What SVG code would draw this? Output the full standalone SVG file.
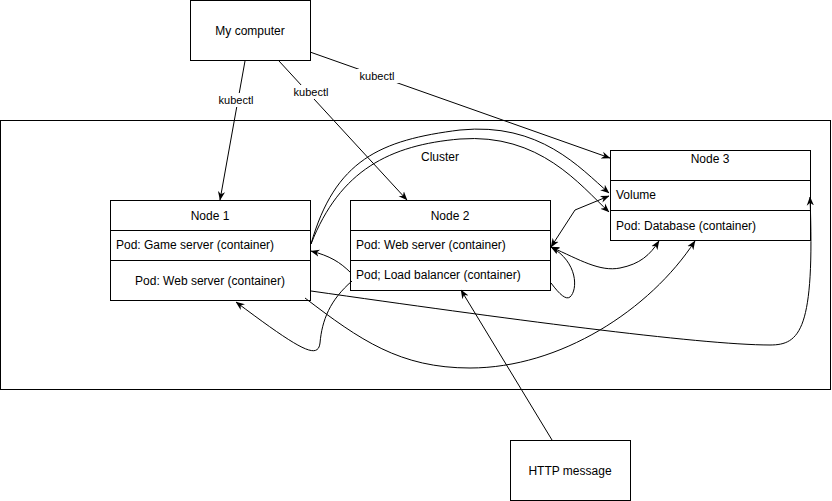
<svg xmlns="http://www.w3.org/2000/svg" width="832" height="501" viewBox="0 0 832 501">
<style>
rect.box{fill:#fff;stroke:#000;stroke-width:1}
line.div{stroke:#000;stroke-width:1}
text{font-family:"Liberation Sans",Arial,sans-serif;font-size:12px;fill:#000}
text.c{text-anchor:middle}
text.lbl{font-size:11px;text-anchor:middle}
.e{fill:none;stroke:#000;stroke-width:1}
</style>
<defs>
<marker id="a" viewBox="0 0 10 10" refX="9.5" refY="5" markerWidth="9" markerHeight="9" markerUnits="userSpaceOnUse" orient="auto-start-reverse">
<path d="M0,1 L10,5 L0,9 L3,5 z" fill="#000"/>
</marker>
</defs>
<rect id="bg" x="0" y="0" width="832" height="501" fill="#fff"/>
<g id="cluster">
<rect x="0.5" y="120.5" width="830" height="269" fill="none" stroke="#000"/>
<text class="c" x="440" y="161">Cluster</text>
</g>
<g id="my-computer">
<rect class="box" x="190.5" y="0.5" width="120" height="60"/>
<text class="c" x="250" y="35">My computer</text>
</g>
<g id="http-message">
<rect class="box" x="510.5" y="440.5" width="120" height="60"/>
<text class="c" x="570" y="475">HTTP message</text>
</g>
<g id="node1">
<rect class="box" x="110.5" y="200.5" width="200" height="100"/>
<line class="div" x1="110.5" y1="230.5" x2="310.5" y2="230.5"/>
<line class="div" x1="110.5" y1="260.5" x2="310.5" y2="260.5"/>
<text class="c" x="210" y="220">Node 1</text>
<text x="116" y="249">Pod: Game server (container)</text>
<text class="c" x="210" y="285">Pod: Web server (container)</text>
</g>
<g id="node2">
<rect class="box" x="350.5" y="200.5" width="200" height="90"/>
<line class="div" x1="350.5" y1="230.5" x2="550.5" y2="230.5"/>
<line class="div" x1="350.5" y1="260.5" x2="550.5" y2="260.5"/>
<text class="c" x="450" y="220">Node 2</text>
<text x="356" y="249">Pod: Web server (container)</text>
<text x="356" y="279">Pod; Load balancer (container)</text>
</g>
<g id="node3">
<rect class="box" x="610.5" y="150.5" width="200" height="90"/>
<line class="div" x1="610.5" y1="180.5" x2="810.5" y2="180.5"/>
<line class="div" x1="610.5" y1="210.5" x2="810.5" y2="210.5"/>
<text class="c" x="710" y="163">Node 3</text>
<text x="616" y="199">Volume</text>
<text x="616" y="230">Pod: Database (container)</text>
</g>
<g id="connectors">
<path class="e" d="M245,61 L220,200" marker-end="url(#a)"/>
<path class="e" d="M279,61 L407,200" marker-end="url(#a)"/>
<path class="e" d="M310,52 L610,158" marker-end="url(#a)"/>
<path class="e" d="M311,244 C335,160 380,140 460,130 C540,122 580,168 609,193" marker-end="url(#a)"/>
<path class="e" d="M311,244 C340,170 390,145 460,139 C540,133 580,185 609,212" marker-end="url(#a)"/>
<path class="e" d="M551,247 L575,210 L609,196" marker-start="url(#a)" marker-end="url(#a)"/>
<path class="e" d="M551,247 C580,260 600,272 620,268 C640,264 650,255 659,241" marker-start="url(#a)" marker-end="url(#a)"/>
<path class="e" d="M551,283 C560,295 566,300 570,297 C578,290 578,262 551,247" marker-end="url(#a)"/>
<path class="e" d="M351,273 C340,262 330,256 311,251" marker-end="url(#a)"/>
<path class="e" d="M352,281 C330,300 322,320 320,343 C318,360 300,350 236,302" marker-end="url(#a)"/>
<path class="e" d="M305,298 C360,340 400,368 470,368 C560,368 650,310 695,241" marker-end="url(#a)"/>
<path class="e" d="M311,291 C500,318 700,345 770,345 C800,345 815,330 810,197" marker-end="url(#a)"/>
<path class="e" d="M552,440 L461,290" marker-end="url(#a)"/>
<rect x="215" y="93" width="42" height="14" fill="#fff"/>
<text class="lbl" x="236" y="104">kubectl</text>
<rect x="290" y="85" width="43" height="14" fill="#fff"/>
<text class="lbl" x="311" y="96">kubectl</text>
<rect x="356" y="69" width="43" height="14" fill="#fff"/>
<text class="lbl" x="377" y="80">kubectl</text>
</g>
</svg>
